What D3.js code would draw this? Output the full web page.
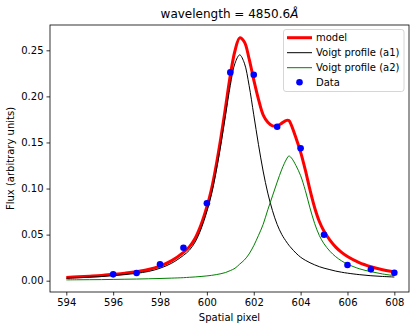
<!DOCTYPE html>
<html>
<head>
<meta charset="utf-8">
<script src="https://cdn.jsdelivr.net/npm/d3@7"></script>
<style>
  body { margin: 0; background: #fff; }
  svg { display: block; font-family: "DejaVu Sans", sans-serif; }
</style>
</head>
<body>
<div id="chart"></div>
<script>
// sampled positions (spatial pixel) for the curves
var xGrid = [594, 594.5, 595, 595.5, 596, 596.5, 597, 597.5, 598, 598.5, 599, 599.25, 599.5, 599.75,
  600, 600.2, 600.4, 600.6, 600.8, 601, 601.2, 601.4, 601.6, 601.8, 602, 602.2, 602.4, 602.6, 602.8,
  603, 603.2, 603.4, 603.5, 603.6, 603.8, 604, 604.2, 604.4, 604.6, 604.8, 605, 605.25, 605.5, 605.75,
  606, 606.5, 607, 607.5, 608];
var voigtA1 = [0.0027, 0.0032, 0.0038, 0.0045, 0.0055, 0.0066, 0.0080, 0.0100, 0.0135, 0.0190, 0.0275, 0.0330, 0.0420, 0.0560,
  0.0750, 0.0940, 0.1190, 0.1480, 0.1800, 0.2120, 0.2360, 0.2450, 0.2360, 0.2120, 0.1800, 0.1480, 0.1190, 0.0950, 0.0760,
  0.0610, 0.0500, 0.0420, 0.0385, 0.0355, 0.0300, 0.0255, 0.0222, 0.0195, 0.0172, 0.0152, 0.0136, 0.0120, 0.0104, 0.0092,
  0.0082, 0.0066, 0.0054, 0.0046, 0.0040];
var voigtA2 = [0.0009, 0.0010, 0.0011, 0.0012, 0.0014, 0.0016, 0.0018, 0.0021, 0.0024, 0.0028, 0.0033, 0.0037, 0.0041, 0.0046,
  0.0052, 0.0058, 0.0066, 0.0076, 0.0089, 0.0110, 0.0135, 0.0180, 0.0225, 0.0290, 0.0380, 0.0490, 0.0610, 0.0770, 0.0920,
  0.1070, 0.1210, 0.1320, 0.1353, 0.1335, 0.1250, 0.1140, 0.0980, 0.0790, 0.0620, 0.0490, 0.0400, 0.0320, 0.0260, 0.0215,
  0.0180, 0.0130, 0.0098, 0.0073, 0.0055];
var model = [0.0036, 0.0042, 0.0049, 0.0057, 0.0069, 0.0082, 0.0098, 0.0121, 0.0159, 0.0218, 0.0308, 0.0367, 0.0461, 0.0606,
  0.0802, 0.0998, 0.1256, 0.1556, 0.1889, 0.2230, 0.2495, 0.2635, 0.2590, 0.2410, 0.2180, 0.1970, 0.1800, 0.1720, 0.1680,
  0.1680, 0.1710, 0.1740, 0.1738, 0.1690, 0.1550, 0.1395, 0.1202, 0.0985, 0.0792, 0.0642, 0.0536, 0.0440, 0.0364, 0.0307,
  0.0262, 0.0196, 0.0152, 0.0119, 0.0095];

// measured points
var dataX = [596, 597, 598, 599, 600, 601, 602, 603, 604, 605, 606, 607, 608];
var dataY = [0.0069, 0.0084, 0.0178, 0.0358, 0.0840, 0.2260, 0.2235, 0.1670, 0.1437, 0.0499, 0.0170, 0.0123, 0.0087];

var xTicks = [594, 596, 598, 600, 602, 604, 606, 608];
var yTicks = [0.00, 0.05, 0.10, 0.15, 0.20, 0.25];

var legendLabels = ["model", "Voigt profile (a1)", "Voigt profile (a2)", "Data"];

var W = 416, H = 330,
    m = { l: 50, r: 409, t: 25, b: 292 };

var svg = d3.select("#chart").append("svg")
    .attr("width", W).attr("height", H);

var x = d3.scaleLinear().domain([593.304, 608.626]).range([m.l, m.r]);
var y = d3.scaleLinear().domain([-0.01226, 0.27745]).range([m.b, m.t]);

// axes
var xAxis = d3.axisBottom(x).tickValues(xTicks).tickSize(3.5).tickPadding(3).tickFormat(d3.format("d"));
var yAxis = d3.axisLeft(y).tickValues(yTicks).tickSize(3.5).tickPadding(3).tickFormat(d3.format(".2f"));

var gx = svg.append("g").attr("transform", "translate(0," + m.b + ")").call(xAxis);
var gy = svg.append("g").attr("transform", "translate(" + m.l + ",0)").call(yAxis);
[gx, gy].forEach(function (g) {
    g.select(".domain").remove();
    g.selectAll("line").attr("stroke", "#000").attr("stroke-width", 0.8);
    g.selectAll("text").attr("font-size", 10).attr("fill", "#000")
        .attr("font-family", "DejaVu Sans, sans-serif");
});

// clip to axes area
svg.append("clipPath").attr("id", "clip").append("rect")
    .attr("x", m.l).attr("y", m.t).attr("width", m.r - m.l).attr("height", m.b - m.t);
var plot = svg.append("g").attr("clip-path", "url(#clip)");

var line = function (vals) {
    return d3.line()
        .x(function (d, i) { return x(xGrid[i]); })
        .y(function (d) { return y(d); })
        .curve(d3.curveCatmullRom.alpha(0.5))(vals);
};

plot.append("path").attr("d", line(model))
    .attr("fill", "none").attr("stroke", "#ff0000").attr("stroke-width", 3);
plot.append("path").attr("d", line(voigtA1))
    .attr("fill", "none").attr("stroke", "#000").attr("stroke-width", 1);
plot.append("path").attr("d", line(voigtA2))
    .attr("fill", "none").attr("stroke", "#008000").attr("stroke-width", 1);

plot.selectAll("circle.pt").data(dataX).enter().append("circle")
    .attr("class", "pt")
    .attr("cx", function (d) { return x(d); })
    .attr("cy", function (d, i) { return y(dataY[i]); })
    .attr("r", 3.3)
    .attr("fill", "#0000ff");

// frame
svg.append("rect").attr("x", m.l).attr("y", m.t)
    .attr("width", m.r - m.l).attr("height", m.b - m.t)
    .attr("fill", "none").attr("stroke", "#000").attr("stroke-width", 0.8);

// title and labels
var title = svg.append("text").attr("x", (m.l + m.r) / 2).attr("y", 18)
    .attr("text-anchor", "middle").attr("font-size", 12).attr("fill", "#000");
title.append("tspan").text("wavelength = 4850.6");
title.append("tspan").attr("font-style", "italic").text("Å");

svg.append("text").attr("x", (m.l + m.r) / 2).attr("y", 321)
    .attr("text-anchor", "middle").attr("font-size", 10).attr("fill", "#000")
    .text("Spatial pixel");

svg.append("text").attr("transform", "translate(14," + ((m.t + m.b) / 2) + ") rotate(-90)")
    .attr("text-anchor", "middle").attr("font-size", 10).attr("fill", "#000")
    .text("Flux (arbitrary units)");

// legend
var lg = svg.append("g");
lg.append("rect").attr("x", 283.5).attr("y", 29.5).attr("width", 120.5).attr("height", 62)
    .attr("rx", 2.5).attr("fill", "#fff").attr("fill-opacity", 0.8)
    .attr("stroke", "#cccccc").attr("stroke-width", 0.8);
var rowY = [37.7, 52.7, 67.7, 82.3];
var styles = [
    { type: "line", color: "#ff0000", w: 3 },
    { type: "line", color: "#000", w: 1 },
    { type: "line", color: "#008000", w: 1 },
    { type: "dot", color: "#0000ff" }
];
styles.forEach(function (s, i) {
    if (s.type === "line") {
        lg.append("line").attr("x1", 287).attr("x2", 312).attr("y1", rowY[i]).attr("y2", rowY[i])
            .attr("stroke", s.color).attr("stroke-width", s.w);
    } else {
        lg.append("circle").attr("cx", 299.5).attr("cy", rowY[i]).attr("r", 3.3).attr("fill", s.color);
    }
    lg.append("text").attr("x", 316).attr("y", rowY[i]).attr("dy", "0.35em")
        .attr("font-size", 10).attr("fill", "#000").text(legendLabels[i]);
});
</script>
</body>
</html>
